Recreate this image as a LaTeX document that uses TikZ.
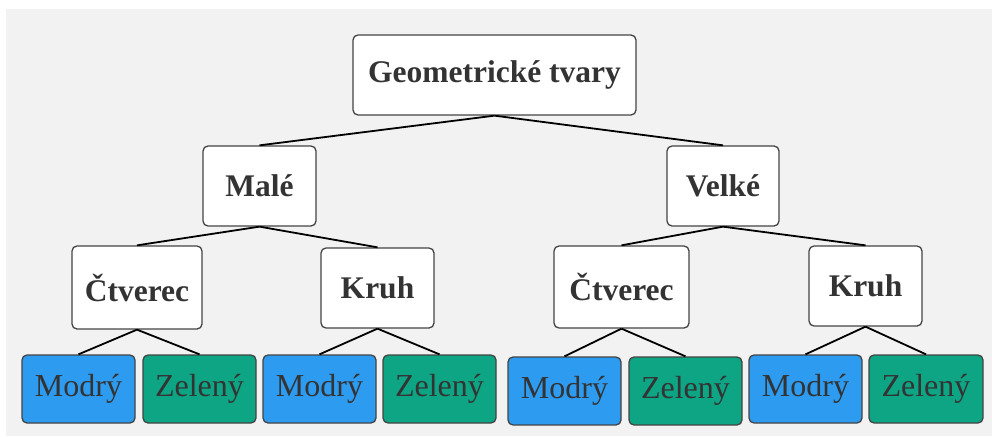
\documentclass[tikz,border=0pt]{standalone}
\usepackage{fontspec}
\setmainfont{Liberation Serif}
\begin{document}
\begin{tikzpicture}[x=1pt,y=-1pt]
\definecolor{bgc}{HTML}{F2F2F2}
\definecolor{txt}{HTML}{333333}
\definecolor{bord}{HTML}{444444}
\definecolor{blu}{HTML}{2D9BF0}
\definecolor{grn}{HTML}{0DA584}
\tikzset{
  box/.style={draw=bord, line width=1.3pt, rounded corners=5pt, fill=white, inner sep=0pt,
    text=txt, font=\fontsize{31.5}{36}\selectfont\bfseries, minimum height=80pt},
  leaf/.style={draw=bord, line width=1.3pt, rounded corners=5pt, inner sep=0pt,
    text=txt, font=\fontsize{32}{36}\selectfont, minimum width=113pt, minimum height=68pt},
  con/.style={line width=1.8pt, black}
}
\useasboundingbox (0,0) rectangle (992,436);
\fill[bgc] (6,9) rectangle (992,436);
\node[box, minimum width=283pt] (root) at (494.5,75) {Geometrické tvary};
\node[box, minimum width=113pt] (male) at (259.5,186) {Malé};
\node[box, minimum width=112pt] (velke) at (723,186) {Velké};
\node[box, minimum width=130pt, minimum height=83pt] (c1) at (137,287.5) {Čtverec};
\node[box, minimum width=113pt] (k1) at (377.5,288) {Kruh};
\node[box, minimum width=135pt, minimum height=82pt] (c2) at (621.5,287) {Čtverec};
\node[box, minimum width=113pt] (k2) at (865.5,286) {Kruh};
\node[leaf, fill=blu] (l1) at (78.5,389) {Modrý};
\node[leaf, fill=grn] (l2) at (199.5,389) {Zelený};
\node[leaf, fill=blu] (l3) at (319.5,389) {Modrý};
\node[leaf, fill=grn] (l4) at (439.5,389) {Zelený};
\node[leaf, fill=blu] (l5) at (564.5,391) {Modrý};
\node[leaf, fill=grn] (l6) at (685.5,391) {Zelený};
\node[leaf, fill=blu] (l7) at (805.5,389) {Modrý};
\node[leaf, fill=grn, minimum width=114pt] (l8) at (926,389) {Zelený};
\draw[con] (root.south) -- (male.north);
\draw[con] (root.south) -- (velke.north);
\draw[con] (male.south) -- (c1.north);
\draw[con] (male.south) -- (k1.north);
\draw[con] (velke.south) -- (c2.north);
\draw[con] (velke.south) -- (k2.north);
\draw[con] (c1.south) -- (l1.north);
\draw[con] (c1.south) -- (l2.north);
\draw[con] (k1.south) -- (l3.north);
\draw[con] (k1.south) -- (l4.north);
\draw[con] (c2.south) -- (l5.north);
\draw[con] (c2.south) -- (l6.north);
\draw[con] (k2.south) -- (l7.north);
\draw[con] (k2.south) -- (l8.north);
\end{tikzpicture}
\end{document}
